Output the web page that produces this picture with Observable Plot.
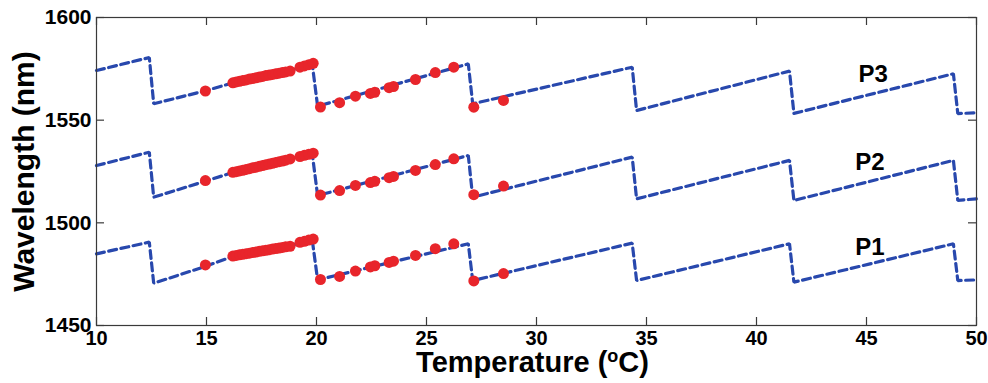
<!DOCTYPE html>
<html>
<head>
<meta charset="utf-8">
<script src="https://cdn.jsdelivr.net/npm/d3@7"></script>
<script src="https://cdn.jsdelivr.net/npm/@observablehq/plot@0.6"></script>
<style>
  html, body { margin: 0; padding: 0; background: #fff; }
  #chart { width: 988px; height: 383px; }
</style>
</head>
<body>
<div id="chart"></div>
<script>
// ---- data ----
const xTicks = [10, 15, 20, 25, 30, 35, 40, 45, 50];
const yTicks = [1450, 1500, 1550, 1600];
const xTitle = "Temperature (°C)";
const yTitle = "Wavelength (nm)";

// dashed sawtooth model curves (vertices)
const lineT = [10, 12.4, 12.6, 14.95, 16.2, 18.8, 19.25, 19.8, 20.05, 26.9, 27.1, 34.35, 34.55, 41.5, 41.7, 48.95, 49.15, 50];
const lineP3 = [1574.2, 1580.5, 1558.0, 1564.3, 1568.2, 1573.9, 1575.8, 1577.9, 1556.8, 1577.4, 1558.0, 1575.8, 1554.7, 1573.9, 1553.3, 1572.6, 1553.2, 1553.6];
const lineP2 = [1527.9, 1534.4, 1512.5, 1520.3, 1524.5, 1531.1, 1532.4, 1534.2, 1513.3, 1532.8, 1512.5, 1532.0, 1511.7, 1530.4, 1510.9, 1530.4, 1510.9, 1511.7];
const lineP1 = [1484.9, 1490.6, 1470.6, 1478.8, 1483.6, 1488.6, 1490.5, 1492.2, 1472.2, 1489.8, 1471.9, 1490.1, 1471.9, 1489.8, 1471.1, 1489.8, 1471.9, 1472.2];

// measured points (red dots)
const dotT  = [14.95, 16.2, 16.35, 16.5, 16.65, 16.8, 16.95, 17.1, 17.25, 17.4, 17.55, 17.7, 17.85, 18.0, 18.15, 18.3, 18.45, 18.6, 18.8, 19.25, 19.45, 19.65, 19.85, 20.18, 21.05, 21.77, 22.45, 22.65, 23.3, 23.5, 24.5, 25.4, 26.24, 27.15, 28.5];
const dotP3 = [1564.2, 1568.2, 1568.6, 1568.9, 1569.3, 1569.6, 1570.0, 1570.3, 1570.6, 1571.0, 1571.3, 1571.7, 1572.0, 1572.3, 1572.6, 1572.9, 1573.2, 1573.5, 1573.9, 1575.8, 1576.4, 1577.0, 1577.7, 1556.4, 1558.5, 1561.7, 1563.0, 1563.6, 1565.8, 1566.4, 1569.8, 1573.2, 1575.8, 1556.3, 1559.6];
const dotP2 = [1520.6, 1524.6, 1524.9, 1525.3, 1525.6, 1526.0, 1526.4, 1526.8, 1527.1, 1527.5, 1527.9, 1528.3, 1528.6, 1529.0, 1529.4, 1529.8, 1530.1, 1530.5, 1531.1, 1532.3, 1532.9, 1533.4, 1533.9, 1513.5, 1515.7, 1518.2, 1519.6, 1520.2, 1522.0, 1522.6, 1525.5, 1528.4, 1531.2, 1513.7, 1517.9];
const dotP1 = [1479.5, 1483.8, 1484.1, 1484.4, 1484.7, 1485.0, 1485.2, 1485.5, 1485.8, 1486.1, 1486.4, 1486.6, 1486.9, 1487.2, 1487.5, 1487.7, 1488.0, 1488.3, 1488.6, 1490.5, 1491.0, 1491.6, 1492.1, 1472.4, 1473.9, 1476.5, 1478.5, 1479.1, 1480.7, 1481.3, 1484.1, 1487.4, 1489.8, 1471.7, 1475.3];

// series labels
const labelNames = ["P3", "P2", "P1"];
const labelX = [45.3, 45.15, 45.15];
const labelY = [1572.2, 1529.6, 1488.2];

// ---- build tables ----
const lines = [];
[["P3", lineP3], ["P2", lineP2], ["P1", lineP1]].forEach(([name, vals]) => {
  lineT.forEach((t, i) => lines.push({series: name, t, w: vals[i]}));
});
const dots = [];
[["P3", dotP3], ["P2", dotP2], ["P1", dotP1]].forEach(([name, vals]) => {
  dotT.forEach((t, i) => dots.push({series: name, t, w: vals[i]}));
});
const labels = labelNames.map((n, i) => ({name: n, t: labelX[i], w: labelY[i]}));

const W = 988, H = 383;
const mL = 96, mR = 12, mT = 17, mB = 58;
const innerW = W - mL - mR, innerH = H - mT - mB;
const tl = 8;
const font = "'Liberation Sans', Arial, Helvetica, sans-serif";

const chart = Plot.plot({
  width: W,
  height: H,
  marginLeft: mL,
  marginRight: mR,
  marginTop: mT,
  marginBottom: mB,
  style: {fontFamily: font, fontWeight: "bold", fontSize: "20px", color: "#000", background: "#fff"},
  x: {domain: [10, 50]},
  y: {domain: [1450, 1600]},
  marks: [
    Plot.line(lines, {x: "t", y: "w", z: "series", stroke: "#2848ad", strokeWidth: 3.2, strokeDasharray: "8,4.5", strokeLinejoin: "miter"}),
    Plot.dot(dots, {x: "t", y: "w", r: 5.5, fill: "#e8252b", stroke: "none"}),
    Plot.text(labels, {x: "t", y: "w", text: "name", fontSize: 24, fontWeight: "bold", fill: "#000"}),
    Plot.frame({stroke: "#3a3a3a", strokeWidth: 1.2}),
    Plot.tickX(xTicks, {x: d => d, insetTop: innerH - tl, stroke: "#3a3a3a", strokeWidth: 1.2}),
    Plot.tickX(xTicks, {x: d => d, insetBottom: innerH - tl, stroke: "#3a3a3a", strokeWidth: 1.2}),
    Plot.tickY(yTicks, {y: d => d, insetLeft: innerW - tl, stroke: "#3a3a3a", strokeWidth: 1.2}),
    Plot.tickY(yTicks, {y: d => d, insetRight: innerW - tl, stroke: "#3a3a3a", strokeWidth: 1.2}),
    Plot.axisX({ticks: xTicks, tickSize: 0, tickPadding: 5, fontSize: 20, fontWeight: "bold", label: null, tickFormat: d => String(d)}),
    Plot.axisY({ticks: yTicks, tickSize: 0, tickPadding: 5, fontSize: 21, fontWeight: "bold", label: null, tickFormat: d => String(d)}),
    Plot.text([yTitle], {frameAnchor: "left", dx: -72, rotate: -90, textAnchor: "middle", lineAnchor: "middle", fontSize: 30, fontWeight: "bold", fill: "#000"}),
    Plot.text([xTitle], {frameAnchor: "bottom", dx: -4, dy: 37, textAnchor: "middle", lineAnchor: "middle", fontSize: 29, fontWeight: "bold", fill: "#000"})
  ]
});

// superscript "o" in the x title
const tEl = [...chart.querySelectorAll("text")].find(e => e.textContent === xTitle);
if (tEl) {
  tEl.textContent = "";
  const ns = "http://www.w3.org/2000/svg";
  const a = document.createElementNS(ns, "tspan"); a.textContent = "Temperature (";
  const b = document.createElementNS(ns, "tspan"); b.textContent = "o"; b.setAttribute("dy", "-10"); b.setAttribute("font-size", "18");
  const c = document.createElementNS(ns, "tspan"); c.textContent = "C)"; c.setAttribute("dy", "10");
  tEl.append(a, b, c);
}
document.getElementById("chart").append(chart);
</script>
</body>
</html>
